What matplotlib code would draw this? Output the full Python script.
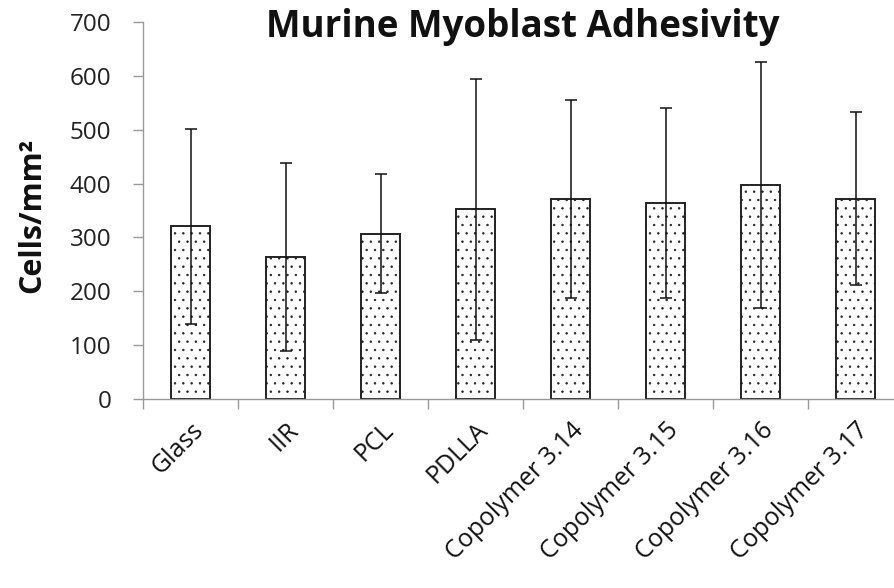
import matplotlib.pyplot as plt
import numpy as np

plt.rcParams['font.family'] = ['Open Sans', 'DejaVu Sans']
plt.rcParams['hatch.linewidth'] = 0.5
plt.rcParams['hatch.color'] = '#444444'

materials = ['Glass', 'IIR', 'PCL', 'PDLLA', 'Copolymer 3.14',
             'Copolymer 3.15', 'Copolymer 3.16', 'Copolymer 3.17']
cells = [321, 264, 307, 352, 371, 364, 398, 372]
sd = [181, 175, 110, 242, 183, 176, 228, 160]

fig = plt.figure(figsize=(8.95, 5.88), dpi=100)
ax = fig.add_axes([0.160, 0.321, 0.849, 0.642])

x = np.arange(len(materials))
ax.bar(x, cells, width=0.41, color='white', edgecolor='#222222',
       linewidth=1.4, hatch='..', zorder=2)
ax.errorbar(x, cells, yerr=sd, fmt='none', ecolor='#111111',
            elinewidth=1.1, capsize=4.5, capthick=1.1, zorder=3)

ax.set_xlim(-0.5, 7.5)
ax.set_ylim(0, 700)
ax.set_yticks(range(0, 701, 100))
ax.tick_params(axis='y', direction='out', length=7, width=1, color='#999999',
               labelsize=17.5, labelcolor='#222222', pad=16)

# category ticks sit between the bars, labels go under each bar
ax.set_xticks(np.arange(-0.5, 8, 1))
ax.set_xticklabels([])
ax.set_xticks(x, minor=True)
ax.set_xticklabels(materials, minor=True, rotation=45, ha='right',
                   va='top', rotation_mode='anchor', fontsize=18,
                   color='#111111')
ax.tick_params(axis='x', which='major', direction='out', length=7, width=1,
               color='#999999')
ax.tick_params(axis='x', which='minor', length=0, pad=13)

for side in ['top', 'right']:
    ax.spines[side].set_visible(False)
for side in ['left', 'bottom']:
    ax.spines[side].set_color('#999999')
    ax.spines[side].set_linewidth(1)

fig.text(0.584, 1 - 37 / 588, 'Murine Myoblast Adhesivity', ha='center',
         va='baseline', fontsize=26.5, fontweight='bold', color='#111111')
fig.text(0.036, 1 - 215 / 588, 'Cells/mm²', rotation=90, ha='center',
         va='center', fontsize=22, fontweight='bold', color='#111111')

fig.savefig('out.png', dpi=100)
